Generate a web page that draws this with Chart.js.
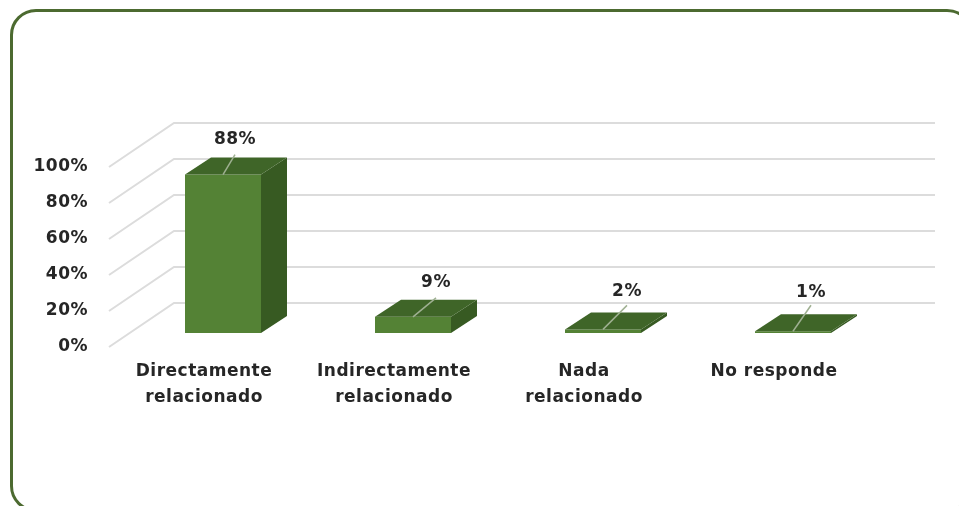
<!DOCTYPE html>
<html>
<head>
<meta charset="utf-8">
<title>Relación</title>
<script src="https://cdn.jsdelivr.net/npm/chart.js@4"></script>
<style>
  html, body { margin: 0; padding: 0; background: #fff; overflow: hidden; }
  #wrap { position: relative; width: 959px; height: 506px; overflow: hidden; }
  #frame { position: absolute; left: 10px; top: 9px; width: 957px; height: 497px; border: 3px solid #4c6a30; border-radius: 26px; }
  canvas { position: absolute; left: 0; top: 0; }
</style>
</head>
<body>
<div id="wrap">
  <div id="frame"></div>
  <canvas id="chart" width="959" height="506"></canvas>
</div>
<script>
// data
const categories = [["Directamente", "relacionado"], ["Indirectamente", "relacionado"], ["Nada", "relacionado"], ["No responde"]];
const percentValues = [88, 9, 2, 1];
const tickValues = [0, 20, 40, 60, 80, 100];

// fake 3D look
const depthX = 26, depthY = 17;       // bar depth
const wallX = 65, wallY = 44;         // floor depth
const barShiftX = 19, barShiftY = -14; // bars sit in the middle of the floor
const wallRight = 935;
const labelLift = [35, 34, 38, 39];
const leaderLift = [20, 19, 24, 26];
const leaderLean = [12, 23, 24, 18];

const textColor = "#262626";
const fontFamily = "'DejaVu Sans', sans-serif";

const fake3d = {
  id: "fake3d",
  beforeDraw(chart) {
    chart.ctx.letterSpacing = "0.5px";
  },
  beforeDatasetsDraw(chart) {
    const { ctx, scales: { y } } = chart;
    // walls
    ctx.save();
    ctx.strokeStyle = "#dcdcdc";
    ctx.lineWidth = 2;
    tickValues.forEach(v => {
      const py = y.getPixelForValue(v);
      const left = chart.chartArea.left;
      ctx.beginPath();
      ctx.moveTo(left, py);
      ctx.lineTo(left + wallX, py - wallY);
      ctx.lineTo(wallRight, py - wallY);
      ctx.stroke();
    });
    ctx.restore();
    ctx.save();
    ctx.translate(barShiftX, barShiftY);
  },
  afterDatasetsDraw(chart) {
    const { ctx } = chart;
    ctx.restore();
    const bars = chart.getDatasetMeta(0).data;
    bars.forEach((bar, i) => {
      const half = bar.width / 2;
      const x0 = bar.x - half + barShiftX;
      const x1 = bar.x + half + barShiftX;
      const top = bar.y + barShiftY;
      const bottom = bar.base + barShiftY;

      // side face
      ctx.fillStyle = "#375a22";
      ctx.beginPath();
      ctx.moveTo(x1, top);
      ctx.lineTo(x1 + depthX, top - depthY);
      ctx.lineTo(x1 + depthX, bottom - depthY);
      ctx.lineTo(x1, bottom);
      ctx.closePath();
      ctx.fill();

      // top face
      ctx.fillStyle = "#3f6528";
      ctx.beginPath();
      ctx.moveTo(x0, top);
      ctx.lineTo(x0 + depthX, top - depthY);
      ctx.lineTo(x1 + depthX, top - depthY);
      ctx.lineTo(x1, top);
      ctx.closePath();
      ctx.fill();

      // leader line + value
      const cx = (x0 + x1) / 2;
      const lx = cx + leaderLean[i];
      ctx.strokeStyle = "#9fb092";
      ctx.lineWidth = 1.5;
      ctx.beginPath();
      ctx.moveTo(cx, top);
      ctx.lineTo(lx, top - leaderLift[i]);
      ctx.stroke();

      ctx.fillStyle = textColor;
      ctx.font = "700 17px " + fontFamily;
      ctx.textAlign = "center";
      ctx.textBaseline = "middle";
      ctx.fillText(percentValues[i] + "%", lx, top - labelLift[i]);
    });
  }
};

new Chart(document.getElementById("chart"), {
  type: "bar",
  data: {
    labels: categories,
    datasets: [{
      data: percentValues,
      backgroundColor: "#548235",
      barPercentage: 0.4,
      categoryPercentage: 1,
      clip: false
    }]
  },
  options: {
    responsive: false,
    animation: false,
    layout: { padding: { top: 167, right: 90, left: 0, bottom: 0 } },
    plugins: { legend: { display: false }, title: { display: false }, tooltip: { enabled: false } },
    scales: {
      x: {
        grid: { display: false, drawTicks: false },
        border: { display: false },
        ticks: {
          color: textColor,
          padding: 12,
          maxRotation: 0,
          autoSkip: false,
          font: { family: fontFamily, size: 17, weight: "700", lineHeight: 1.53 }
        },
        afterFit: s => { s.height = 159; }
      },
      y: {
        min: 0,
        max: 100,
        grid: { display: false, drawTicks: false },
        border: { display: false },
        afterBuildTicks: s => { s.ticks = tickValues.map(v => ({ value: v })); },
        ticks: {
          color: textColor,
          padding: 21,
          callback: v => v + "%",
          font: { family: fontFamily, size: 17, weight: "700" }
        },
        afterFit: s => { s.width = 109; }
      }
    }
  },
  plugins: [fake3d]
});
</script>
</body>
</html>
